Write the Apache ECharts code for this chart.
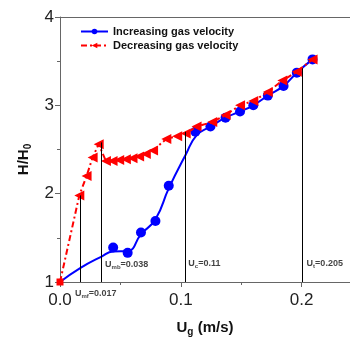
<!DOCTYPE html>
<html><head><meta charset="utf-8">
<script src="https://cdn.jsdelivr.net/npm/echarts@6/dist/echarts.min.js"></script>
<style>html,body{margin:0;padding:0;background:#fff}#c{width:350px;height:342px}</style>
</head><body><div id="c"></div>
<script>
// ---- data ----
const xTickLabels = ['0.0', '0.1', '0.2'];
const yTickLabels = ['1', '2', '3', '4'];
const seriesNames = ['Increasing gas velocity', 'Decreasing gas velocity'];

// fitted curve of the increasing-velocity run
const incCurveX = [0, 0.017, 0.034, 0.044, 0.056, 0.067, 0.079, 0.090, 0.104, 0.113, 0.1245, 0.137, 0.149, 0.160, 0.172, 0.185, 0.196, 0.209];
const incCurveY = [1.0, 1.16, 1.285, 1.345, 1.35, 1.54, 1.71, 2.06, 2.44, 2.66, 2.76, 2.86, 2.93, 3.00, 3.11, 3.22, 3.37, 3.52];
// measured points, increasing velocity
const incX = [0.044, 0.056, 0.067, 0.079, 0.090, 0.112, 0.1245, 0.137, 0.149, 0.160, 0.172, 0.185, 0.196, 0.209];
const incY = [1.39, 1.33, 1.56, 1.69, 2.09, 2.70, 2.76, 2.86, 2.93, 3.00, 3.11, 3.22, 3.37, 3.52];
// measured points, decreasing velocity
const decX = [0, 0.016, 0.022, 0.027, 0.032, 0.038, 0.0435, 0.049, 0.0545, 0.060, 0.0655, 0.071, 0.077, 0.088, 0.097, 0.104, 0.113, 0.126, 0.137, 0.149, 0.160, 0.172, 0.184, 0.196, 0.209];
const decY = [1.0, 1.98, 2.20, 2.41, 2.56, 2.37, 2.37, 2.38, 2.39, 2.40, 2.42, 2.45, 2.49, 2.62, 2.65, 2.68, 2.76, 2.81, 2.89, 3.00, 3.05, 3.15, 3.28, 3.38, 3.52];

// characteristic velocity markers
const refLineX = [0.0166, 0.0338, 0.1037, 0.2006];
const refLineTop = [1.98, 2.58, 2.70, 3.42];
const refLabelMain = ['U', 'U', 'U', 'U'];
const refLabelSub = ['mf', 'mb', 'c', 't'];
const refLabelValue = ['=0.017', '=0.038', '=0.11', '=0.205'];
const refLabelX = [0.0124, 0.0373, 0.1062, 0.2041];
const refLabelY = [0.875, 1.20, 1.21, 1.21];

// ---- chart ----
const FONT = 'Liberation Sans, Arial, Helvetica, sans-serif';
const AX = '#666';
const zip = (a, b) => a.map((v, i) => [v, b[i]]);

const chart = echarts.init(document.getElementById('c'), null, {renderer: 'canvas'});

const decData = zip(decX, decY).map((p, i) => i === 0
  ? {value: p, symbol: 'rect', symbolSize: 7, symbolRotate: 0}
  : p);

const option = {
  animation: false,
  backgroundColor: '#fff',
  grid: {left: 60, right: 0, top: 17, bottom: 56, containLabel: false},
  legend: {
    orient: 'vertical', left: 75, top: 21, itemWidth: 27, itemHeight: 7, itemGap: 3,
    textStyle: {fontFamily: FONT, fontSize: 11, fontWeight: 'bold', color: '#111'},
    data: seriesNames
  },
  xAxis: [{
    type: 'value', min: 0, max: 0.24, interval: 0.1,
    axisLine: {show: true, onZero: false, lineStyle: {color: AX, width: 1}},
    axisTick: {show: true, length: 5, lineStyle: {color: AX}},
    minorTick: {show: true, splitNumber: 2, length: 3, lineStyle: {color: AX}},
    splitLine: {show: false}, minorSplitLine: {show: false},
    axisLabel: {
      fontFamily: FONT, fontSize: 17, color: '#222', margin: 10, showMaxLabel: false,
      formatter: v => { const i = Math.round(v / 0.1); return Math.abs(v - i * 0.1) < 1e-6 ? (xTickLabels[i] || '') : ''; }
    },
    name: 'U{sub|g} (m/s)', nameLocation: 'middle', nameGap: 37,
    nameTextStyle: {
      fontFamily: FONT, fontSize: 15, fontWeight: 'bold', color: '#111',
      rich: {sub: {fontFamily: FONT, fontSize: 10, fontWeight: 'bold', color: '#111', verticalAlign: 'bottom', padding: [8, 0, 0, 0]}}
    }
  }, {
    type: 'value', position: 'top', min: 0, max: 0.24,
    axisLine: {show: true, onZero: false, lineStyle: {color: AX, width: 1}},
    axisTick: {show: false}, axisLabel: {show: false}, splitLine: {show: false}
  }],
  yAxis: {
    type: 'value', min: 1, max: 4, interval: 1,
    axisLine: {show: true, onZero: false, lineStyle: {color: AX, width: 1}},
    axisTick: {show: true, length: 5, lineStyle: {color: AX}},
    minorTick: {show: true, splitNumber: 2, length: 3, lineStyle: {color: AX}},
    splitLine: {show: false}, minorSplitLine: {show: false},
    axisLabel: {
      fontFamily: FONT, fontSize: 17, color: '#222', margin: 6,
      formatter: v => yTickLabels[Math.round(v - 1)] || ''
    },
    name: 'H/H{sub|0}', nameLocation: 'middle', nameGap: 27,
    nameTextStyle: {
      fontFamily: FONT, fontSize: 15, fontWeight: 'bold', color: '#111', padding: [0, 20, 0, 0],
      rich: {sub: {fontFamily: FONT, fontSize: 10, fontWeight: 'bold', color: '#111', verticalAlign: 'bottom', padding: [8, 0, 0, 0]}}
    }
  },
  series: [
    {
      name: seriesNames[0], type: 'line', data: zip(incCurveX, incCurveY), smooth: 0.5,
      symbol: 'circle', symbolSize: 7, showSymbol: false, z: 2,
      lineStyle: {color: '#0000ff', width: 2}, itemStyle: {color: '#0000ff'},
      markLine: {
        silent: true, symbol: ['none', 'none'], animation: false,
        lineStyle: {color: '#000', width: 1, type: 'solid'}, label: {show: false},
        data: refLineX.map((x, i) => [{coord: [x, 1]}, {coord: [x, refLineTop[i]]}])
      }
    },
    {
      name: 'incPoints', type: 'scatter', data: zip(incX, incY), symbol: 'circle', symbolSize: 10, z: 3,
      itemStyle: {color: '#0000ff', opacity: 1}
    },
    {
      name: seriesNames[1], type: 'line', data: decData, z: 4,
      symbol: 'triangle', symbolRotate: 90, symbolSize: [10, 10], showAllSymbol: true,
      lineStyle: {color: '#ff0000', width: 2, type: [6, 3, 2, 3]}, itemStyle: {color: '#ff0000'}
    },
    {
      name: 'annotations', type: 'scatter', symbolSize: 0, z: 5, clip: false, silent: true,
      data: refLabelX.map((x, i) => ({value: [x, refLabelY[i]], idx: i})),
      label: {
        show: true, position: 'right', distance: 0,
        formatter: p => `{m|${refLabelMain[p.dataIndex]}}{s|${refLabelSub[p.dataIndex]}}{m|${refLabelValue[p.dataIndex]}}`,
        rich: {
          m: {fontFamily: FONT, fontSize: 9, fontWeight: 'bold', color: '#111', lineHeight: 12},
          s: {fontFamily: FONT, fontSize: 6, fontWeight: 'bold', color: '#111', verticalAlign: 'bottom', lineHeight: 8}
        }
      }
    }
  ]
};
chart.setOption(option);
</script>
</body></html>
